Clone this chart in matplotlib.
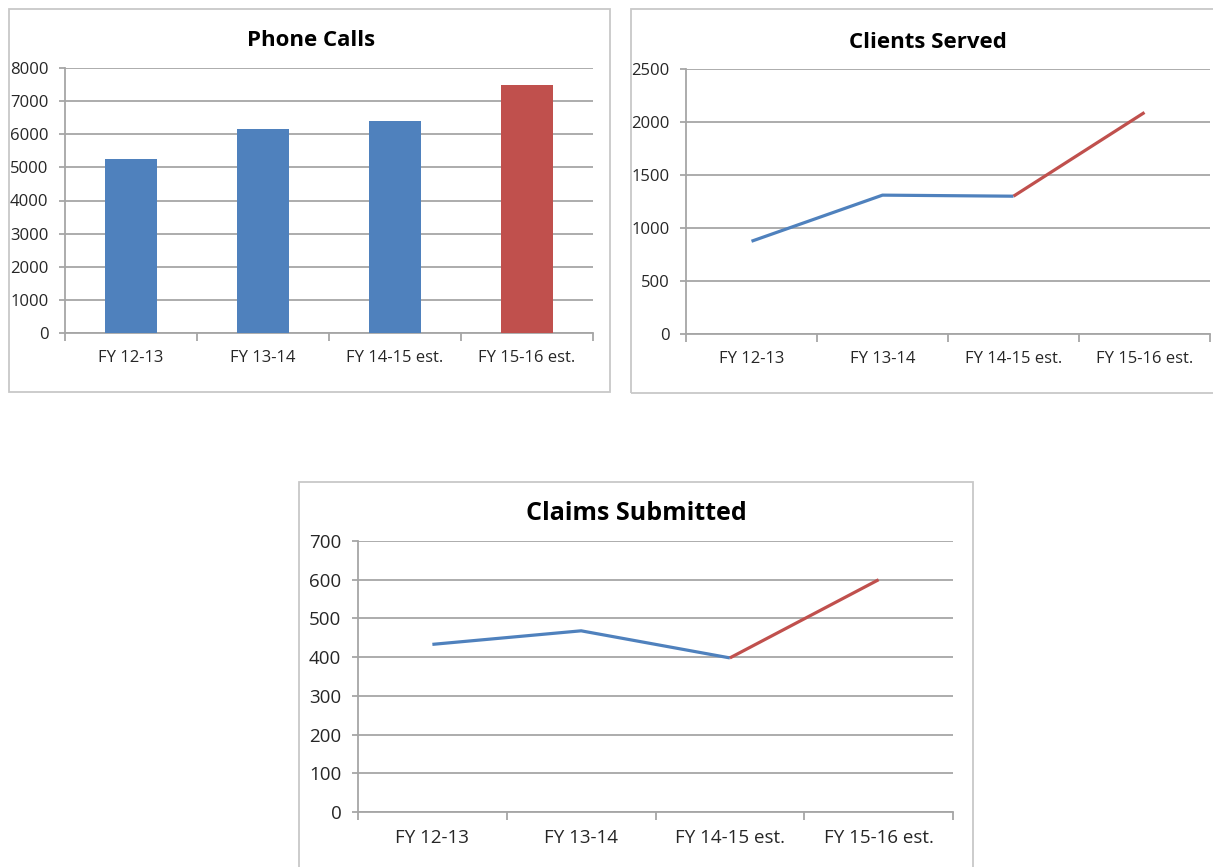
import matplotlib
matplotlib.use("Agg")
import matplotlib.pyplot as plt
from matplotlib.patches import Rectangle
import numpy as np

categories = ["FY 12-13", "FY 13-14", "FY 14-15 est.", "FY 15-16 est."]
phone_calls = [5250, 6170, 6400, 7480]
clients_served = [875, 1310, 1300, 2090]
claims_submitted = [433, 468, 398, 600]
projected_index = 3  # last category is the projection shown in red

BLUE = "#4F81BD"
RED = "#C0504D"
GRID = "#A6A6A6"
BORDER = "#C8C8C8"
TEXT = "#262626"
FONT = ["Open Sans", "DejaVu Sans"]

W, H = 1213, 867
fig = plt.figure(figsize=(W / 100, H / 100), dpi=100)
fig.patch.set_facecolor("white")


def fx(px):
    return px / W


def fy(py):
    return 1 - py / H


def border(l, t, r, b):
    fig.add_artist(Rectangle((fx(l), fy(b)), fx(r) - fx(l), fy(t) - fy(b),
                             transform=fig.transFigure, fill=False,
                             edgecolor=BORDER, linewidth=1.3, zorder=0))


def make_axes(l, t, r, b):
    ax = fig.add_axes([fx(l), fy(b), fx(r) - fx(l), fy(t) - fy(b)])
    ax.set_facecolor("none")
    return ax


def style(ax, ymax, ystep, fs, xpad):
    n = len(categories)
    ax.set_xlim(-0.5, n - 0.5)
    ax.set_ylim(0, ymax)
    ticks = np.arange(0, ymax + 1, ystep)
    ax.set_yticks(ticks)
    ax.set_yticklabels([str(v) for v in ticks],
                       fontsize=fs, family=FONT, color=TEXT)
    ax.yaxis.grid(True, color=GRID, linewidth=1.3)
    ax.set_axisbelow(True)
    ax.tick_params(axis="y", length=4, color=GRID, width=1.3, pad=8)
    # category labels at centers, tick marks at boundaries
    ax.set_xticks(np.arange(-0.5, n, 1.0))
    ax.set_xticklabels([""] * (n + 1))
    ax.set_xticks(np.arange(n), minor=True)
    ax.set_xticklabels(categories, minor=True, fontsize=fs, family=FONT,
                       color=TEXT)
    ax.tick_params(axis="x", which="major", length=6, color=GRID, width=1.3)
    ax.tick_params(axis="x", which="minor", length=0, pad=xpad)
    for s in ["top", "right"]:
        ax.spines[s].set_visible(False)
    for s in ["left", "bottom"]:
        ax.spines[s].set_color(GRID)
        ax.spines[s].set_linewidth(1.3)


def draw_line(ax, values):
    x = np.arange(len(values))
    ax.plot(x[:projected_index], values[:projected_index], color=BLUE,
            linewidth=2.3, solid_capstyle="butt", zorder=3)
    ax.plot(x[projected_index - 1:], values[projected_index - 1:], color=RED,
            linewidth=2.3, solid_capstyle="butt", zorder=3)


# Panel 1: Phone Calls
border(9, 9, 610, 392)
ax1 = make_axes(65, 68, 593, 333)
colors = [RED if i >= projected_index else BLUE for i in range(len(categories))]
ax1.bar(np.arange(len(categories)), phone_calls, width=0.4, color=colors,
        zorder=3)
style(ax1, 8000, 1000, 12, 12)
fig.text(fx(311), fy(40), "Phone Calls", ha="center", va="center",
         fontsize=16, fontweight="bold", family=FONT, color="black")

# Panel 2: Clients Served
border(631, 9, 1216, 393)
ax2 = make_axes(686, 69, 1210, 334)
draw_line(ax2, clients_served)
style(ax2, 2500, 500, 12, 12)
fig.text(fx(928), fy(42), "Clients Served", ha="center", va="center",
         fontsize=16, fontweight="bold", family=FONT, color="black")

# Panel 3: Claims Submitted
border(299, 482, 973, 880)
ax3 = make_axes(358, 541, 953, 812)
draw_line(ax3, claims_submitted)
style(ax3, 700, 100, 13.5, 12)
fig.text(fx(636), fy(513), "Claims Submitted", ha="center", va="center",
         fontsize=18, fontweight="bold", family=FONT, color="black")

fig.savefig("out.png", dpi=100, facecolor="white")
